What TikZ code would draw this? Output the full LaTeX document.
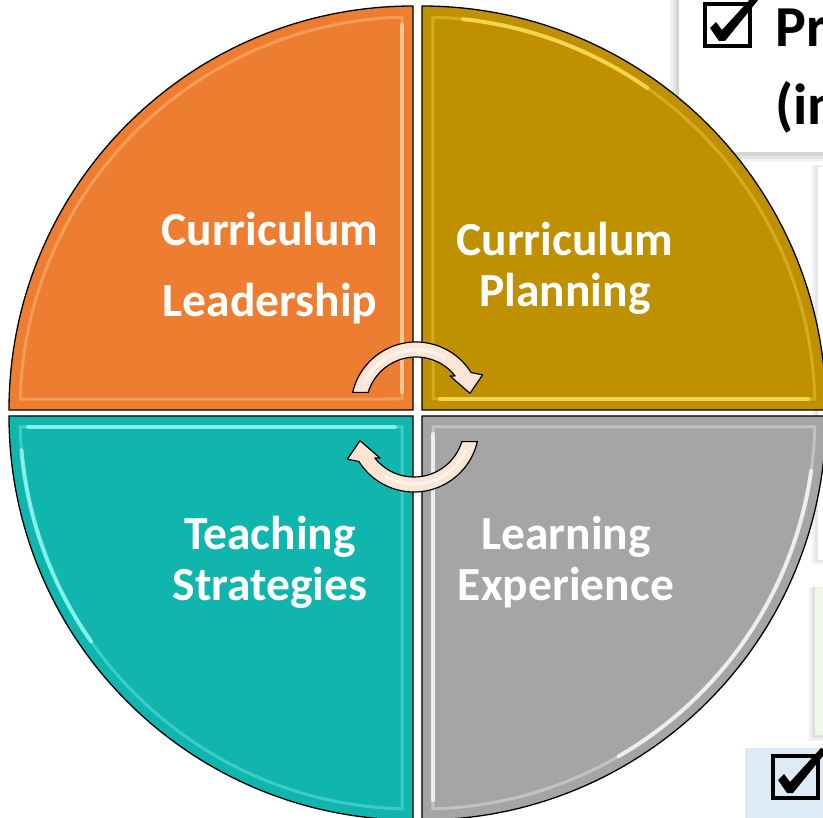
\documentclass[tikz,border=0pt]{standalone}
\usepackage{fontspec}
\setmainfont{Carlito}
\usetikzlibrary{calc}
\definecolor{qorange}{RGB}{237,125,49}
\definecolor{qgold}{RGB}{191,144,0}
\definecolor{qteal}{RGB}{16,181,174}
\definecolor{qgray}{RGB}{165,165,165}
\definecolor{hlorange}{RGB}{255,214,160}
\definecolor{hlgold}{RGB}{255,224,90}
\definecolor{hlteal}{RGB}{150,250,245}
\definecolor{hlgray}{RGB}{250,250,250}
\definecolor{cream}{RGB}{251,229,212}
\definecolor{boxgreen}{RGB}{240,246,234}
\definecolor{boxblue}{RGB}{222,235,247}
\begin{document}
\begin{tikzpicture}[x=1pt,y=1pt,
  lbl/.style={text=white,font=\fontsize{47.5}{50}\selectfont\bfseries,anchor=base,inner sep=0pt},
  boxtxt/.style={text=black,font=\fontsize{58}{60}\selectfont\bfseries,anchor=base west,inner sep=0pt},
  quadline/.style={draw=black,line width=1.3pt},
  rimsoft/.style={line width=3pt,opacity=0.35},
  rimstrong/.style={line width=4pt,opacity=0.8,line cap=round},
  arrowst/.style={fill=cream,draw=black,line width=1.2pt,line join=round},
  arrowhl/.style={draw=white,line width=3pt,opacity=0.55,line cap=round},
  chk/.style={fill=black},
  chkbox/.style={draw=black,line width=4.2pt}]
\useasboundingbox (0,0) rectangle (823,-818);
\clip (0,0) rectangle (823,-818);
\fill[white] (0,0) rectangle (823,-818);

% ---------- background boxes (behind the circle) ----------
\fill[black!5] (670,5) rectangle (840,-162);
\fill[black!10] (673,5) rectangle (840,-159);
\fill[black!17] (676,5) rectangle (840,-156);
\fill[white] (679,5) rectangle (840,-152);
\fill[black!5] (812,-165) rectangle (840,-564);
\fill[black!10] (815,-166) rectangle (840,-562);
\fill[white] (818,-167) rectangle (840,-560);
\fill[black!6] (809,-587) rectangle (840,-741);
\fill[black!12] (812,-587) rectangle (840,-738);
\fill[boxgreen] (815,-587) rectangle (840,-735);
\fill[boxblue] (745,-748) rectangle (840,-830);

% check boxes
\draw[chkbox] (705,-4) rectangle (750,-46);
\fill[chk] (710,-28) -- (716,-22) -- (722,-30) -- (753,4) -- (759,1) -- (725,-41) -- (719,-41) -- cycle;
\begin{scope}[shift={(68,-752)}]
\draw[chkbox] (705,-4) rectangle (750,-46);
\fill[chk] (710,-28) -- (716,-22) -- (722,-30) -- (753,4) -- (759,1) -- (725,-41) -- (719,-41) -- cycle;
\end{scope}
\node[boxtxt] (pr) at (775,-47) {Pr};
\node[boxtxt] (in) at (775,-125) {(in};

% ---------- quadrants ----------
% top left (orange)
\fill[qorange] (413,-410) -- (9,-410) arc[start angle=180,end angle=90,radius=404] -- cycle;
\begin{scope}
\clip (413,-410) -- (9,-410) arc[start angle=180,end angle=90,radius=404] -- cycle;
\draw[rimsoft,draw=hlorange] (402,-399) -- ($(413,-410)+(91.6:393)$) arc[start angle=91.6,end angle=178.4,radius=393] -- cycle;
\draw[rimstrong,draw=hlorange] (402,-392) -- (402,-25);
\end{scope}
\draw[quadline] (413,-410) -- (9,-410) arc[start angle=180,end angle=90,radius=404] -- cycle;

% top right (gold)
\fill[qgold] (422,-410) -- (422,-6) arc[start angle=90,end angle=0,radius=404] -- cycle;
\begin{scope}
\clip (422,-410) -- (422,-6) arc[start angle=90,end angle=0,radius=404] -- cycle;
\draw[rimsoft,draw=hlgold] (433,-399) -- ($(422,-410)+(1.6:393)$) arc[start angle=1.6,end angle=88.4,radius=393] -- cycle;
\draw[rimstrong,draw=hlgold] (440,-399) -- (808,-399);
\draw[rimstrong,draw=hlgold] ($(422,-410)+(84:393)$) arc[start angle=84,end angle=55,radius=393];
\end{scope}
\draw[quadline] (422,-410) -- (422,-6) arc[start angle=90,end angle=0,radius=404] -- cycle;

% bottom left (teal)
\fill[qteal] (413,-416) -- (9,-416) arc[start angle=180,end angle=270,radius=404] -- cycle;
\begin{scope}
\clip (413,-416) -- (9,-416) arc[start angle=180,end angle=270,radius=404] -- cycle;
\draw[rimsoft,draw=hlteal] (402,-427) -- ($(413,-416)+(181.6:393)$) arc[start angle=181.6,end angle=268.4,radius=393] -- cycle;
\draw[rimstrong,draw=hlteal] (395,-427) -- (28,-427);
\draw[rimstrong,draw=hlteal] ($(413,-416)+(185:393)$) arc[start angle=185,end angle=215,radius=393];
\end{scope}
\draw[quadline] (413,-416) -- (9,-416) arc[start angle=180,end angle=270,radius=404] -- cycle;

% bottom right (gray)
\fill[qgray] (422,-416) -- (826,-416) arc[start angle=0,end angle=-90,radius=404] -- cycle;
\begin{scope}
\clip (422,-416) -- (826,-416) arc[start angle=0,end angle=-90,radius=404] -- cycle;
\draw[rimsoft,draw=hlgray] (433,-427) -- ($(422,-416)+(271.6:393)$) arc[start angle=271.6,end angle=358.4,radius=393] -- cycle;
\draw[rimstrong,draw=hlgray] (433,-434) -- (433,-800);
\draw[rimstrong,draw=hlgray] ($(422,-416)+(352:393)$) arc[start angle=352,end angle=300,radius=393];
\end{scope}
\draw[quadline] (422,-416) -- (826,-416) arc[start angle=0,end angle=-90,radius=404] -- cycle;

% ---------- circular arrows ----------
\coordinate (ca) at (416,-407);
\coordinate (cb) at (414,-427);
\filldraw[arrowst] ($(ca)+(167:65)$) arc[start angle=167,end angle=32,radius=65]
  -- ($(ca)+(25.8:74)$) -- ($(ca)+(14.2:55.7)$) -- ($(ca)+(42.6:46)$) -- ($(ca)+(38.4:50)$)
  arc[start angle=38.4,end angle=163,radius=50] -- cycle;
\draw[arrowhl] ($(ca)+(155:57)$) arc[start angle=155,end angle=60,radius=57];
\filldraw[arrowst] ($(cb)+(347:65)$) arc[start angle=347,end angle=212,radius=65]
  -- ($(cb)+(205.8:74)$) -- ($(cb)+(194.2:55.7)$) -- ($(cb)+(222.6:46)$) -- ($(cb)+(218.4:50)$)
  arc[start angle=218.4,end angle=343,radius=50] -- cycle;
\draw[arrowhl] ($(cb)+(335:57)$) arc[start angle=335,end angle=240,radius=57];

% ---------- labels ----------
\node[lbl] (cl1) at (270,-246) {Curriculum};
\node[lbl] (cl2) at (270,-317) {Leadership};
\node[lbl] (cp1) at (565,-256) {Curriculum};
\node[lbl] (cp2) at (565,-307) {Planning};
\node[lbl] (ts1) at (270,-550) {Teaching};
\node[lbl] (ts2) at (270,-601) {Strategies};
\node[lbl] (le1) at (566,-550) {Learning};
\node[lbl] (le2) at (566,-601) {Experience};
\end{tikzpicture}
\end{document}
